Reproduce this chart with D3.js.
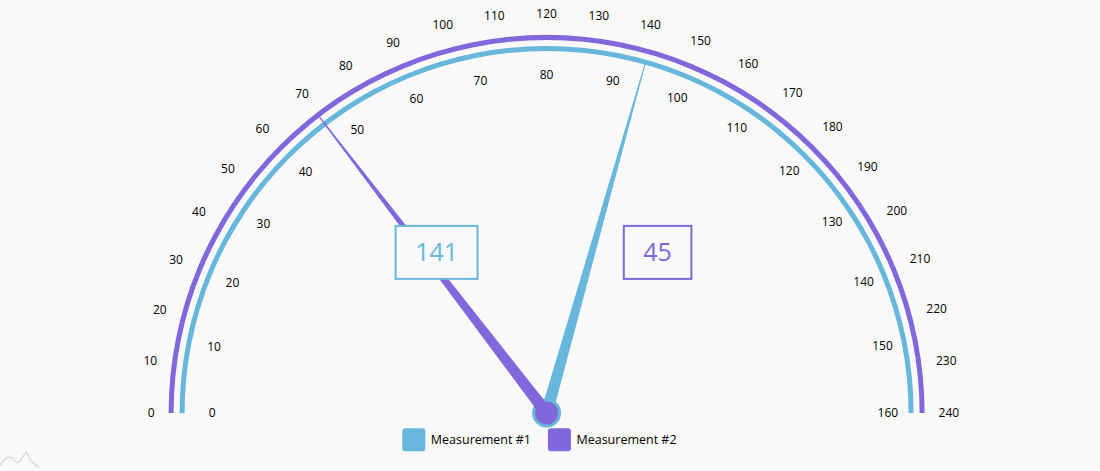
<!DOCTYPE html>
<html>
<head>
<meta charset="utf-8">
<script src="https://cdn.jsdelivr.net/npm/d3@7"></script>
<style>
  html, body { margin: 0; padding: 0; background: #f9f9f9; }
  svg { display: block; font-family: "Open Sans", sans-serif; }
  .tick { font-size: 12px; fill: #000; }
  .legend text { font-size: 12.5px; fill: #000; }
</style>
</head>
<body>
<svg id="chart" width="1100" height="471"></svg>
<script>
// two measurements, each with its own axis
const seriesNames = ["Measurement #1", "Measurement #2"];
const seriesColors = ["#67b7dc", "#8067dc"];
const axisMin = [0, 0];
const axisMax = [160, 240];
// where the hands point in the picture (on their own axis)
const handValues = [94, 70];
// numbers shown in the boxes
const labelValues = [141, 45];

const svg = d3.select("#chart");
const cx = 546.6, cy = 413;
const axisRadius = [364.5, 375.5];   // inner (blue), outer (purple)
const lineW = 5;
const bg = "#f9f9f9";

const g = svg.append("g").attr("transform", `translate(${cx},${cy})`);

// angle scales: -90deg (left) .. +90deg (right), d3.arc convention
const scales = axisMax.map((mx, i) =>
    d3.scaleLinear().domain([axisMin[i], mx]).range([-Math.PI / 2, Math.PI / 2]));

function pt(r, a) { return [r * Math.sin(a), -r * Math.cos(a)]; }

// axis lines
axisRadius.forEach((r, i) => {
    g.append("path")
        .attr("d", d3.arc()
            .innerRadius(r - lineW / 2)
            .outerRadius(r + lineW / 2)
            .startAngle(-Math.PI / 2)
            .endAngle(Math.PI / 2)())
        .attr("fill", seriesColors[i]);
});

// tick labels, placed so the edge nearest the centre sits at `edge`
function drawLabels(scale, ticks, edge) {
    ticks.forEach(v => {
        const a = scale(v);
        const t = g.append("text").attr("class", "tick").text(v)
            .attr("text-anchor", "middle").attr("dy", "0.35em");
        const w = t.node().getComputedTextLength();
        const ext = Math.abs(Math.sin(a)) * w / 2 + Math.abs(Math.cos(a)) * 7;
        const p = pt(edge + ext, a);
        t.attr("x", p[0]).attr("y", p[1]);
    });
}
drawLabels(scales[0], scales[0].ticks(16), 331);
drawLabels(scales[1], scales[1].ticks(24), 392);

// hands + pins
const handStart = [12, 12], handEnd = [1, 1.2];
const pinR = [14.5, 11.5];
handValues.forEach((v, i) => {
    const a = scales[i](v);
    const R = axisRadius[i] - lineW / 2;
    const px = Math.cos(a), py = Math.sin(a);
    const sw = handStart[i] / 2, ew = handEnd[i] / 2;
    const tip = pt(R, a);
    const poly = [
        [px * sw, py * sw],
        [tip[0] + px * ew, tip[1] + py * ew],
        [tip[0] - px * ew, tip[1] - py * ew],
        [-px * sw, -py * sw]
    ];
    g.append("path")
        .attr("d", d3.line()(poly) + "Z")
        .attr("fill", seriesColors[i]);
    g.append("circle")
        .attr("r", pinR[i])
        .attr("fill", seriesColors[i]);
});

// value boxes (opaque, sit over the hands)
const boxCenters = [-110, 111];
labelValues.forEach((v, i) => {
    const bx = g.append("g").attr("transform", `translate(${boxCenters[i]},${252.4 - cy})`);
    const rect = bx.append("rect");
    const t = bx.append("text")
        .text(v)
        .attr("text-anchor", "middle")
        .attr("dy", "0.35em")
        .attr("font-size", 25)
        .attr("fill", seriesColors[i]);
    const w = t.node().getComputedTextLength() + 39;
    rect.attr("x", -w / 2).attr("y", -26.5)
        .attr("width", w).attr("height", 53)
        .attr("fill", bg)
        .attr("stroke", seriesColors[i])
        .attr("stroke-width", 2);
});

// legend
const legend = svg.append("g").attr("class", "legend")
    .attr("transform", "translate(402.3,428.3)");
let lx = 0;
seriesNames.forEach((name, i) => {
    const it = legend.append("g").attr("transform", `translate(${lx},0)`);
    it.append("rect")
        .attr("width", 23).attr("height", 23)
        .attr("rx", 3)
        .attr("fill", seriesColors[i]);
    const t = it.append("text")
        .attr("x", 28.5).attr("y", 11.5).attr("dy", "0.35em")
        .text(name);
    lx += 28.5 + t.node().getComputedTextLength() + 17;
});

// faint logo mark bottom-left
svg.append("path")
    .attr("d", "M0,466 Q8,452 14,460 Q18,466 22,458 L26,452 L32,462 L40,468")
    .attr("fill", "none")
    .attr("stroke", "#d6d6d6")
    .attr("stroke-width", 1.2);
</script>
</body>
</html>
